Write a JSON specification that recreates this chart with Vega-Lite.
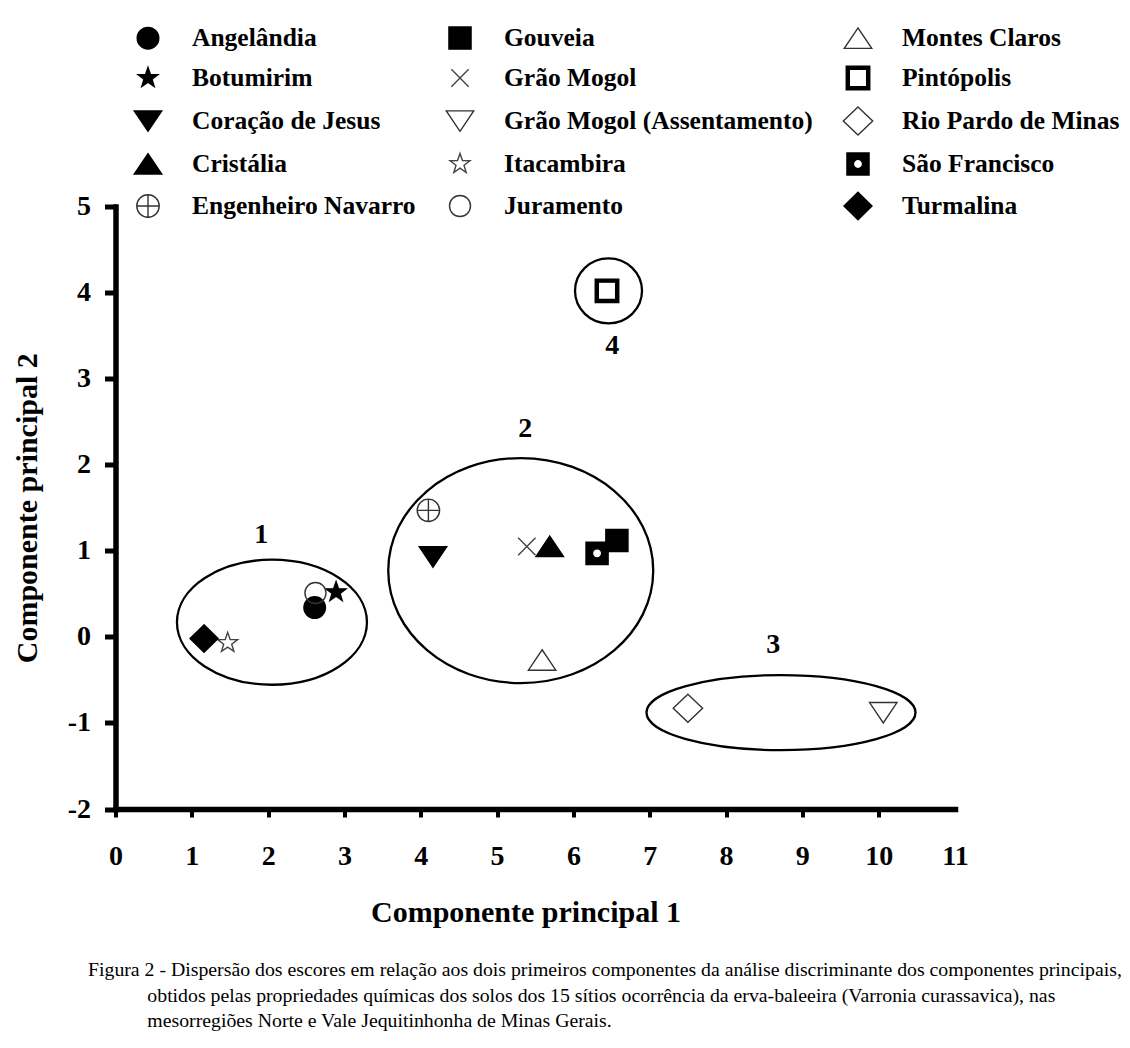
{
  "$schema": "https://vega.github.io/schema/vega-lite/v6.json",
  "width": 839.5,
  "height": 602.5,
  "autosize": {"type": "none"},
  "padding": {"left": 115.5, "top": 206.5, "right": 175, "bottom": 239},
  "background": "white",
  "datasets": {
    "sites": [
      {"site": "Angelândia", "x": 2.61, "y": 0.34},
      {"site": "Botumirim", "x": 2.89, "y": 0.52},
      {"site": "Coração de Jesus", "x": 4.16, "y": 0.93},
      {"site": "Cristália", "x": 5.69, "y": 1.05},
      {"site": "Engenheiro Navarro", "x": 4.1, "y": 1.47},
      {"site": "Gouveia", "x": 6.57, "y": 1.12},
      {"site": "Grão Mogol", "x": 5.39, "y": 1.05},
      {"site": "Grão Mogol (Assentamento)", "x": 10.06, "y": -0.88},
      {"site": "Itacambira", "x": 1.47, "y": -0.07},
      {"site": "Juramento", "x": 2.62, "y": 0.51},
      {"site": "Montes Claros", "x": 5.59, "y": -0.27},
      {"site": "Pintópolis", "x": 6.44, "y": 4.02},
      {"site": "Rio Pardo de Minas", "x": 7.5, "y": -0.83},
      {"site": "São Francisco", "x": 6.31, "y": 0.97},
      {"site": "Turmalina", "x": 1.16, "y": -0.02}
    ],
    "ellipses": [
      {"cluster": "1", "x": 2.05, "y": 0.17},
      {"cluster": "2", "x": 5.31, "y": 0.77},
      {"cluster": "3", "x": 8.72, "y": -0.88},
      {"cluster": "4", "x": 6.46, "y": 4.02}
    ],
    "labels": [
      {"cluster": "1", "x": 1.91, "y": 1.18},
      {"cluster": "2", "x": 5.37, "y": 2.41},
      {"cluster": "3", "x": 8.62, "y": -0.09},
      {"cluster": "4", "x": 6.51, "y": 3.38}
    ]
  },
  "title": {
    "text": [
      "Figura 2 - Dispersão dos escores  em relação aos dois primeiros componentes da análise discriminante dos componentes principais,",
      "\u200b\u00a0\u00a0\u00a0\u00a0\u00a0\u00a0\u00a0\u00a0\u00a0\u00a0\u00a0\u00a0obtidos pelas propriedades químicas dos solos dos 15 sítios ocorrência da erva-baleeira (Varronia curassavica), nas",
      "\u200b\u00a0\u00a0\u00a0\u00a0\u00a0\u00a0\u00a0\u00a0\u00a0\u00a0\u00a0\u00a0mesorregiões Norte e Vale Jequitinhonha de Minas Gerais."
    ],
    "orient": "bottom",
    "anchor": "start",
    "frame": "group",
    "dx": -27.5,
    "offset": 33,
    "font": "Liberation Serif",
    "fontSize": 19.8,
    "fontWeight": "normal",
    "color": "black",
    "lineHeight": 25.5,
    "baseline": "top"
  },
  "encoding": {
    "x": {
      "field": "x",
      "type": "quantitative",
      "scale": {"domain": [0, 11], "nice": false, "zero": false},
      "axis": {
        "title": "Componente principal 1",
        "values": [0, 1, 2, 3, 4, 5, 6, 7, 8, 9, 10, 11],
        "labelExpr": "'' + datum.value",
        "grid": false,
        "tickSize": 8,
        "tickWidth": 4,
        "tickOpacity": {"condition": {"test": "datum.value === 11", "value": 0}, "value": 1},
        "domainWidth": 5.5,
        "domainCap": "square",
        "labelPadding": 25,
        "labelFlush": false,
        "labelOverlap": false,
        "titleX": 410,
        "titleY": 103,
        "titleBaseline": "middle"
      }
    },
    "y": {
      "field": "y",
      "type": "quantitative",
      "scale": {"domain": [-2, 5], "nice": false, "zero": false},
      "axis": {
        "title": "Componente principal 2",
        "values": [-2, -1, 0, 1, 2, 3, 4, 5],
        "labelExpr": "'' + datum.value",
        "grid": false,
        "tickSize": 11,
        "tickWidth": 5,
        "domainWidth": 5.5,
        "domainCap": "square",
        "labelPadding": 14,
        "labelFlush": false,
        "labelOverlap": false,
        "titleX": -88.5,
        "titleBaseline": "middle",
        "titleAngle": -90
      }
    }
  },
  "layer": [
    {
      "data": {"name": "ellipses"},
      "mark": {"type": "point", "filled": false, "stroke": "black", "strokeWidth": 2.3, "opacity": 1},
      "encoding": {
        "shape": {
          "field": "cluster",
          "type": "nominal",
          "scale": {
            "domain": ["1", "2", "3", "4"],
            "range": [
              "M-1,0A1,0.658 0 1,1 1,0A1,0.658 0 1,1 -1,0Z",
              "M-1,0A1,0.849 0 1,1 1,0A1,0.849 0 1,1 -1,0Z",
              "M-1,0A1,0.279 0 1,1 1,0A1,0.279 0 1,1 -1,0Z",
              "M-1,0A1,0.97 0 1,1 1,0A1,0.97 0 1,1 -1,0Z"
            ]
          },
          "legend": null
        },
        "size": {
          "field": "cluster",
          "type": "ordinal",
          "scale": {"type": "ordinal", "domain": ["1", "2", "3", "4"], "range": [36100, 70225, 72361, 4489]},
          "legend": null
        }
      }
    },
    {
      "data": {"name": "sites"},
      "mark": {"type": "point", "filled": true, "strokeWidth": 1.4, "opacity": 1, "size": 784},
      "encoding": {
        "shape": {
          "field": "site",
          "type": "nominal",
          "scale": {
            "domain": ["Angelândia", "Botumirim", "Coração de Jesus", "Cristália", "Engenheiro Navarro", "Gouveia", "Grão Mogol", "Grão Mogol (Assentamento)", "Itacambira", "Juramento", "Montes Claros", "Pintópolis", "Rio Pardo de Minas", "São Francisco", "Turmalina"],
            "range": [
              "M-0.77,0A0.77,0.77 0 1,1 0.77,0A0.77,0.77 0 1,1 -0.77,0Z",
              "M0,-0.75L0.176,-0.243L0.713,-0.232L0.285,0.093L0.441,0.607L0,0.3L-0.441,0.607L-0.285,0.093L-0.713,-0.232L-0.176,-0.243Z",
              "M-0.98,-0.72L0.98,-0.72L0,0.74Z",
              "M0,-0.74L0.98,0.72L-0.98,0.72Z",
              "M-0.8,0A0.8,0.8 0 1,1 0.8,0A0.8,0.8 0 1,1 -0.8,0ZM-0.8,0L0.8,0M0,-0.8L0,0.8",
              "M-0.79,-0.79L0.79,-0.79L0.79,0.79L-0.79,0.79Z",
              "M-0.62,-0.62L0.62,0.62M-0.62,0.62L0.62,-0.62",
              "M-0.98,-0.72L0.98,-0.72L0,0.74Z",
              "M0,-0.75L0.176,-0.243L0.713,-0.232L0.285,0.093L0.441,0.607L0,0.3L-0.441,0.607L-0.285,0.093L-0.713,-0.232L-0.176,-0.243Z",
              "M-0.75,0A0.75,0.75 0 1,1 0.75,0A0.75,0.75 0 1,1 -0.75,0Z",
              "M0,-0.74L0.98,0.72L-0.98,0.72Z",
              "M-0.84,-0.84L0.84,-0.84L0.84,0.84L-0.84,0.84ZM-0.62,-0.62L-0.62,0.62L0.62,0.62L0.62,-0.62Z",
              "M0,-1L1.05,0L0,1L-1.05,0Z",
              "M-0.79,-0.79L0.79,-0.79L0.79,0.79L-0.79,0.79ZM-0.33,0A0.33,0.33 0 1,0 0.33,0A0.33,0.33 0 1,0 -0.33,0Z",
              "M0,-0.98L1,0L0,0.98L-1,0Z"
            ]
          },
          "legend": {
            "title": null,
            "orient": "none",
            "legendX": 17.5,
            "legendY": -183.5,
            "columns": 3,
            "columnPadding": 27,
            "rowPadding": 11,
            "padding": 0,
            "symbolSize": 784,
            "symbolStrokeWidth": 1.4,
            "symbolOpacity": 1,
            "labelFont": "Liberation Serif",
            "labelFontWeight": "bold",
            "labelFontSize": 25.5,
            "labelColor": "black",
            "labelOffset": 29,
            "labelLimit": 600
          }
        },
        "fill": {
          "field": "site",
          "type": "nominal",
          "scale": {
            "domain": ["Angelândia", "Botumirim", "Coração de Jesus", "Cristália", "Engenheiro Navarro", "Gouveia", "Grão Mogol", "Grão Mogol (Assentamento)", "Itacambira", "Juramento", "Montes Claros", "Pintópolis", "Rio Pardo de Minas", "São Francisco", "Turmalina"],
            "range": ["black", "black", "black", "black", "transparent", "black", "transparent", "transparent", "transparent", "transparent", "transparent", "black", "transparent", "black", "black"]
          },
          "legend": {
            "title": null,
            "orient": "none",
            "legendX": 17.5,
            "legendY": -183.5,
            "columns": 3,
            "columnPadding": 27,
            "rowPadding": 11,
            "padding": 0,
            "symbolSize": 784,
            "symbolStrokeWidth": 1.4,
            "symbolOpacity": 1,
            "labelFont": "Liberation Serif",
            "labelFontWeight": "bold",
            "labelFontSize": 25.5,
            "labelColor": "black",
            "labelOffset": 29,
            "labelLimit": 600
          }
        },
        "stroke": {
          "field": "site",
          "type": "nominal",
          "scale": {
            "domain": ["Angelândia", "Botumirim", "Coração de Jesus", "Cristália", "Engenheiro Navarro", "Gouveia", "Grão Mogol", "Grão Mogol (Assentamento)", "Itacambira", "Juramento", "Montes Claros", "Pintópolis", "Rio Pardo de Minas", "São Francisco", "Turmalina"],
            "range": ["black", "black", "black", "black", "#333333", "black", "#444444", "#333333", "#444444", "#333333", "#333333", "black", "#333333", "black", "black"]
          },
          "legend": {
            "title": null,
            "orient": "none",
            "legendX": 17.5,
            "legendY": -183.5,
            "columns": 3,
            "columnPadding": 27,
            "rowPadding": 11,
            "padding": 0,
            "symbolSize": 784,
            "symbolStrokeWidth": 1.4,
            "symbolOpacity": 1,
            "labelFont": "Liberation Serif",
            "labelFontWeight": "bold",
            "labelFontSize": 25.5,
            "labelColor": "black",
            "labelOffset": 29,
            "labelLimit": 600
          }
        }
      }
    },
    {
      "data": {"name": "labels"},
      "mark": {"type": "text", "font": "Liberation Serif", "fontWeight": "bold", "fontSize": 28, "color": "black", "baseline": "middle", "align": "center"},
      "encoding": {
        "text": {"field": "cluster", "type": "nominal"}
      }
    }
  ],
  "resolve": {"scale": {"shape": "independent", "size": "independent", "fill": "independent", "stroke": "independent"}},
  "config": {
    "view": {"stroke": null},
    "font": "Liberation Serif",
    "axis": {
      "domainColor": "black",
      "tickColor": "black",
      "labelColor": "black",
      "titleColor": "black",
      "labelFont": "Liberation Serif",
      "labelFontWeight": "bold",
      "labelFontSize": 28,
      "titleFont": "Liberation Serif",
      "titleFontWeight": "bold",
      "titleFontSize": 30
    }
  }
}
